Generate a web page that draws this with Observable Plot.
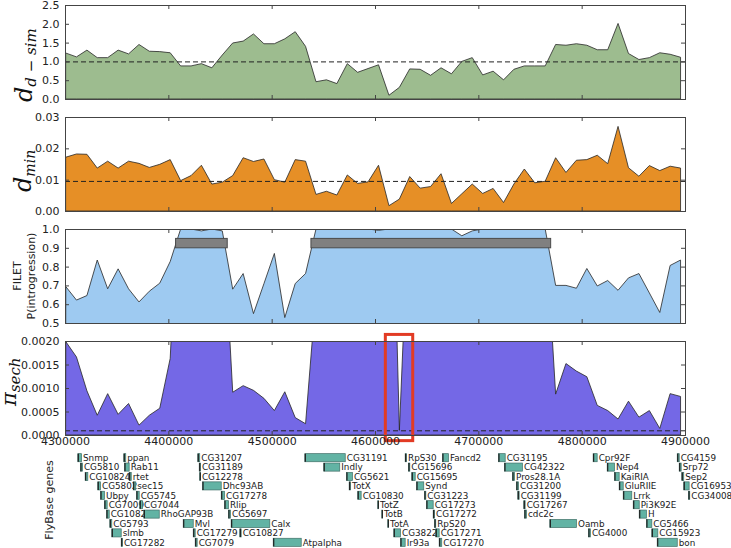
<!DOCTYPE html>
<html><head><meta charset="utf-8">
<script src="https://cdn.jsdelivr.net/npm/d3@7"></script>
<script src="https://cdn.jsdelivr.net/npm/@observablehq/plot@0.6"></script>
<style>
body{margin:0;background:#fff;}
#chart{position:relative;width:731px;height:548px;overflow:hidden;background:#fff;}
#chart svg{position:absolute;left:0;}
</style></head><body><div id="chart"></div>
<script>
// ---------- data ----------
const positions = [4301000,4311100,4321200,4331200,4341300,4351400,4361500,4371600,4381600,4391700,
  4401800,4411900,4422000,4432000,4442100,4452200,4462300,4472400,4482400,4492500,
  4502600,4512700,4522800,4532800,4542900,4553000,4563100,4573200,4583200,4593300,
  4603400,4613500,4623600,4633600,4643700,4653800,4663900,4674000,4684000,4694100,
  4704200,4714300,4724400,4734400,4744500,4754600,4764700,4774800,4784800,4794900,
  4805000,4815100,4825200,4835200,4845300,4855400,4865500,4875600,4885600,4895700];

const ddSim = [1.22,1.12,1.30,1.10,1.10,1.30,1.20,1.45,1.27,1.26,
  1.23,0.88,0.88,0.94,0.83,1.17,1.49,1.54,1.73,1.47,
  1.47,1.60,1.79,1.40,0.46,0.51,0.41,0.94,0.71,0.81,
  0.91,0.10,0.31,0.80,0.79,0.63,0.83,0.67,1.00,1.10,
  0.64,0.74,0.51,0.79,0.88,0.88,0.88,1.45,1.43,1.47,
  1.43,1.31,1.31,2.01,1.21,1.05,1.10,1.23,1.19,1.11];
const ddSimRef = 1.0;

const dMin = [0.0172,0.0182,0.0181,0.0137,0.0159,0.0137,0.0159,0.0152,0.0139,0.0149,
  0.0164,0.0097,0.0113,0.0146,0.0086,0.0092,0.0113,0.0170,0.0158,0.0166,
  0.0100,0.0092,0.0164,0.0159,0.0053,0.0063,0.0051,0.0115,0.0088,0.0093,
  0.0146,0.0017,0.0038,0.0110,0.0073,0.0078,0.0119,0.0024,0.0055,0.0086,
  0.0056,0.0072,0.0027,0.0086,0.0134,0.0090,0.0095,0.0170,0.0123,0.0162,
  0.0164,0.0178,0.0151,0.0270,0.0138,0.0111,0.0145,0.0129,0.0143,0.0137];
const dMinRef = 0.0096;

const filetP = [0.692,0.622,0.646,0.835,0.682,0.788,0.682,0.612,0.669,0.712,
  0.827,1.0,1.0,0.99,1.0,0.99,0.68,0.763,0.55,0.709,
  0.870,0.529,0.71,0.763,1.0,1.0,1.0,1.0,1.0,1.0,
  0.993,1.0,1.0,1.0,1.0,1.0,1.0,1.0,0.964,0.99,
  1.0,1.0,1.0,1.0,1.0,1.0,1.0,0.70,0.70,0.685,
  0.79,0.697,0.726,0.674,0.74,0.763,0.66,0.556,0.806,0.835];
const introgressedStarts = [4407000, 4538000];
const introgressedEnds   = [4457000, 4770000];

const piSech = [0.00198,0.00166,0.00094,0.00042,0.00088,0.00044,0.00067,0.00021,0.00042,0.00057,
  0.00163,0.0062,0.0081,0.0074,0.0068,0.0050,0.00091,0.00105,0.00095,0.00078,
  0.00052,0.00092,0.00037,0.00024,0.0030,0.0058,0.0071,0.0066,0.0079,0.0063,
  0.0072,0.0087,0.0001,0.0054,0.0069,0.0075,0.0062,0.0081,0.0070,0.0066,
  0.0078,0.0072,0.0064,0.0069,0.0058,0.0061,0.0046,0.00087,0.00152,0.00136,
  0.00124,0.00063,0.00052,0.00034,0.00072,0.00038,0.00052,0.00014,0.00088,0.00082];
const piSechRef = 0.0001;
const highlightStart = 4610000, highlightEnd = 4636500;

const xTickValues = [4300000,4400000,4500000,4600000,4700000,4800000,4900000];
const ticks1 = [0,0.5,1.0,1.5,2.0,2.5];
const ticks2 = [0,0.01,0.02,0.03];
const ticks3 = [0.5,0.6,0.7,0.8,0.9,1.0];
const ticks4 = [0,0.0005,0.001,0.0015,0.002];

const geneNames = ["Snmp","CG5810","CG10824","CG5802","Ubpy","CG7009","CG10825","CG5793","slmb","CG17282",
  "ppan","Rab11","rtet","sec15","CG5745","CG7044","RhoGAP93B","Mvl","CG17279","CG7079",
  "CG31207","CG31189","CG12278","Dhc93AB","CG17278","Rlip","CG5697","Calx","CG10827","Atpalpha",
  "CG31191","Indly","CG5621","TotX","CG10830","TotZ","TotB","TotA","CG3822","Ir93a",
  "RpS30","CG15696","CG15695","Synd","CG31223","CG17273","CG17272","RpS20","CG17271","CG17270",
  "Fancd2","CG31195","CG42322","Pros28.1A","CG31200","CG31199","CG17267","cdc2c","Oamb","CG4000",
  "Cpr92F","Nep4","KaiRIA","GluRIIE","Lrrk","Pi3K92E","H","CG5466","CG15923","bon",
  "CG4159","Srp72","Sep2","CG16953","CG34008"];
const geneRows = [0,1,2,3,4,5,6,7,8,9,
  0,1,2,3,4,5,6,7,8,9,
  0,1,2,3,4,5,6,7,8,9,
  0,1,2,3,4,5,6,7,8,9,
  0,1,2,3,4,5,6,7,8,9,
  0,0,1,2,3,4,5,6,7,8,
  0,1,2,3,4,5,6,7,8,9,
  0,1,2,3,4];
const geneStarts = [4312400,4315000,4319500,4331700,4334400,4338200,4340200,4343400,4345300,4354400,
  4356900,4357600,4362100,4366000,4369200,4372400,4376300,4414400,4424100,4426000,
  4428500,4429900,4430400,4433100,4451200,4454400,4458200,4460800,4469200,4501500,
  4532100,4550400,4572400,4575000,4583300,4602700,4606600,4612400,4618200,4624700,
  4629200,4632400,4635600,4640200,4647900,4649800,4656300,4657600,4658800,4662100,
  4665300,4719500,4725300,4733100,4736900,4738200,4744000,4744700,4769200,4806600,
  4811100,4824700,4831800,4836300,4840200,4849900,4855700,4862700,4867900,4873100,
  4892500,4894400,4896900,4898800,4903400];
const geneEnds = [4316000,4316900,4322100,4334400,4338200,4340800,4342800,4345300,4354400,4355600,
  4358800,4362100,4364100,4368500,4371800,4375000,4391200,4424100,4426000,4427900,
  4430400,4431100,4431100,4451200,4454400,4458200,4460200,4498200,4470500,4528600,
  4571200,4565900,4578200,4576300,4586600,4603400,4607200,4613100,4624700,4629200,
  4630500,4633700,4638900,4647200,4649200,4656300,4657600,4658800,4662100,4664600,
  4671100,4726000,4742700,4735000,4738900,4739500,4745300,4746600,4795000,4808500,
  4815000,4831800,4836300,4840200,4848500,4855700,4862700,4867900,4873700,4892500,
  4894400,4896300,4898800,4904000,4904600];

// ---------- layout ----------
const W = 731, ML = 65, MR = 46, PH = 94;
const X0 = 4300000, X1 = 4900000;
const bpPerPx = (X1 - X0) / (W - ML - MR);
const FRAME = "#444";
const chart = document.getElementById("chart");
const baseStyle = {fontFamily: "DejaVu Sans", fontSize: "11px", background: "transparent", overflow: "visible", color: "#222"};

function panel({top, mt = 5, mb = 13, values, domain, ticks, fmt, fill, ref, extra = [], xLabels = false}) {
  const data = positions.map((x, i) => ({x, y: values[i]}));
  const dy = (domain[1] - domain[0]) * 4 / PH;
  const dx = 4 * bpPerPx;
  const inner = xTickValues.slice(1, -1);
  const marks = [
    Plot.areaY(data, {x: "x", y: "y", fill, stroke: "#262626", strokeWidth: 0.8, clip: true}),
    ...(ref != null ? [Plot.ruleY([ref], {stroke: "#222", strokeWidth: 1, strokeDasharray: "5,3"})] : []),
    ...extra,
    Plot.ruleY(ticks, {y: d => d, x1: X0, x2: X0 + dx, stroke: FRAME}),
    Plot.ruleY(ticks, {y: d => d, x1: X1 - dx, x2: X1, stroke: FRAME}),
    Plot.ruleX(inner, {x: d => d, y1: domain[0], y2: domain[0] + dy, stroke: FRAME}),
    Plot.ruleX(inner, {x: d => d, y1: domain[1] - dy, y2: domain[1], stroke: FRAME}),
    Plot.frame({stroke: FRAME, strokeWidth: 1}),
    Plot.axisY({ticks, tickFormat: fmt, tickSize: 0, tickPadding: 6, label: null, color: "#222"})
  ];
  if (xLabels) marks.push(Plot.axisX({ticks: xTickValues, tickFormat: d => String(d), tickSize: 0, tickPadding: 2, label: null, color: "#222"}));
  const p = Plot.plot({
    width: W, height: PH + mt + mb, marginLeft: ML, marginRight: MR, marginTop: mt, marginBottom: mb,
    style: baseStyle,
    x: {domain: [X0, X1], axis: xLabels ? undefined : null},
    y: {domain},
    marks
  });
  p.style.top = top + "px";
  chart.appendChild(p);
  return p;
}

function mathLabel(svg, x, y, main, sub, mainSize, subSize, shift) {
  const t = d3.select(svg).append("text")
    .attr("transform", `translate(${x},${y}) rotate(-90)`)
    .attr("text-anchor", "start")
    .attr("font-family", "DejaVu Serif").attr("font-style", "italic")
    .attr("font-size", mainSize).attr("fill", "#111");
  t.append("tspan").text(main);
  t.append("tspan").attr("font-size", subSize).attr("dy", shift).text(sub);
}

const p1 = panel({top: 0, values: ddSim, domain: [0, 2.5], ticks: ticks1, fmt: d3.format(".1f"), fill: "#9dbc8f", ref: ddSimRef});
mathLabel(p1, 32, 102, "d", "d − sim", 24, 15, 4);

const p2 = panel({top: 112, values: dMin, domain: [0, 0.03], ticks: ticks2, fmt: d3.format(".2f"), fill: "#e68f26", ref: dMinRef});
mathLabel(p2, 31, 80, "d", "min", 24, 14, 4);

const bars = introgressedStarts.map((s, i) => ({x1: s, x2: introgressedEnds[i]}));
const p3 = panel({top: 224, values: filetP, domain: [0.5, 1.0], ticks: ticks3, fmt: d3.format(".1f"), fill: "#9ecaf1",
  extra: [Plot.rect(bars, {x1: "x1", x2: "x2", y1: 0.9, y2: 0.95, fill: "#808080", stroke: "#4a4a4a", strokeWidth: 1})]});
{
  const g = d3.select(p3).append("g").attr("font-family", "DejaVu Sans").attr("font-size", 11).attr("fill", "#222").attr("text-anchor", "middle");
  g.append("text").attr("transform", "translate(21,52) rotate(-90)").text("FILET");
  g.append("text").attr("transform", "translate(35,52) rotate(-90)").text("P(introgression)");
}

const p4 = panel({top: 326, mt: 15, mb: 15, values: piSech, domain: [0, 0.002], ticks: ticks4, fmt: d3.format(".4f"), fill: "#7468e6", ref: piSechRef, xLabels: true,
  extra: [Plot.rect([{x1: highlightStart, x2: highlightEnd}], {x1: "x1", x2: "x2", y1: -0.00012, y2: 0.00214, fill: "none", stroke: "#e23b24", strokeWidth: 3})]});
mathLabel(p4, 16, 80, "π", "sech", 21, 15, 4);

// ---------- gene track ----------
const genes = geneNames.map((name, i) => ({name, row: geneRows[i], start: geneStarts[i], end: geneEnds[i]}));
const gp = Plot.plot({
  width: W, height: 98, marginLeft: ML, marginRight: MR, marginTop: 3, marginBottom: 1,
  style: baseStyle,
  x: {domain: [X0, X1], axis: null},
  y: {domain: [-0.5, 9.5], reverse: true, axis: null},
  marks: [
    Plot.text(genes, {x: "end", y: "row", text: "name", textAnchor: "start", dx: 1, fontSize: 8.8, fill: "#1a1a1a"}),
    Plot.rect(genes, {x1: "start", x2: "end", y1: d => d.row - 0.43, y2: d => d.row + 0.43, fill: "#62b3a4", stroke: "#3f6f67", strokeWidth: 0.7}),
    Plot.ruleX(genes, {x: "start", y1: d => d.row - 0.43, y2: d => d.row + 0.43, stroke: "#1e1e1e", strokeWidth: 1.2})
  ]
});
gp.style.top = "450px";
chart.appendChild(gp);
d3.select(gp).append("text").attr("transform", "translate(53,50) rotate(-90)")
  .attr("font-family", "DejaVu Sans").attr("font-size", 11).attr("fill", "#222").attr("text-anchor", "middle").text("FlyBase genes");
</script></body></html>
